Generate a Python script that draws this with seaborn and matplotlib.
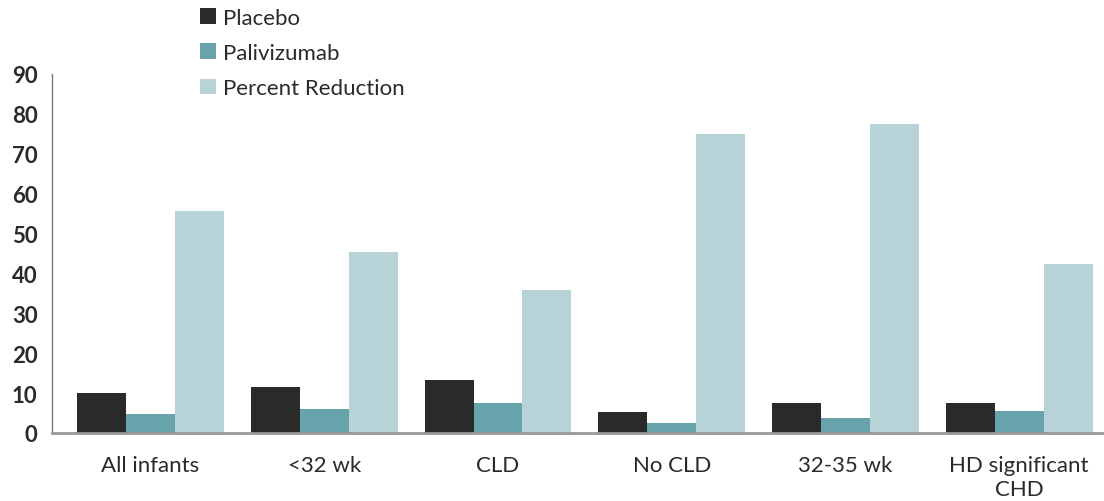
import matplotlib
matplotlib.use("Agg")
import matplotlib.pyplot as plt
from matplotlib.patches import Patch
import seaborn as sns
import pandas as pd

# Subgroup results: hospitalisation rates and percent reduction
categories = ["All infants", "<32 wk", "CLD", "No CLD", "32-35 wk", "HD significant\nCHD"]
series = ["Placebo", "Palivizumab", "Percent Reduction"]
placebo = [10.0, 11.5, 13.3, 5.3, 7.5, 7.5]
palivizumab = [4.8, 6.0, 7.5, 2.5, 3.8, 5.5]
percent_reduction = [55.7, 45.4, 35.9, 75.0, 77.3, 42.4]
y_ticks = [0, 10, 20, 30, 40, 50, 60, 70, 80, 90]

colors = ["#2a2a2a", "#68a3ab", "#b8d3d8"]

rows = []
for name, vals in zip(series, [placebo, palivizumab, percent_reduction]):
    for cat, v in zip(categories, vals):
        rows.append({"Group": cat, "Series": name, "Value": v})
df = pd.DataFrame(rows)

sns.set_theme(style="white")
plt.rcParams["font.family"] = ["Lato", "DejaVu Sans"]

fig = plt.figure(figsize=(11.04, 5.02), dpi=100)
ax = fig.add_axes([52 / 1104, (502 - 434) / 502, (1104 - 52) / 1104, (434 - 74.6) / 502])

sns.barplot(data=df, x="Group", y="Value", hue="Series", order=categories,
            hue_order=series, palette=colors, width=0.845, gap=0,
            saturation=1, ax=ax, legend=False, linewidth=0)

ax.set_ylim(0, 90)
ax.set_xlim(-0.567, 5.488)
ax.set_yticks(y_ticks)
ax.set_xlabel("")
ax.set_ylabel("")

for side in ["top", "right"]:
    ax.spines[side].set_visible(False)
ax.spines["left"].set_color("#7a7a7a")
ax.spines["left"].set_linewidth(1.0)
ax.spines["bottom"].set_color("#999999")
ax.spines["bottom"].set_linewidth(2.0)

ax.tick_params(axis="y", length=6.5, width=1.0, color="#7a7a7a", pad=4,
               labelsize=16, labelcolor="#2a2a2a")
for lbl in ax.get_yticklabels():
    lbl.set_fontweight("bold")
ax.tick_params(axis="x", length=0, pad=16, labelsize=16, labelcolor="#2a2a2a")
for lbl in ax.get_xticklabels():
    lbl.set_linespacing(1.25)

handles = [Patch(facecolor=c, edgecolor="none", label=s) for c, s in zip(colors, series)]
fig.legend(handles=handles, loc="upper left", bbox_to_anchor=(200 / 1104, 1 - 9 / 502),
           frameon=False, fontsize=16, handlelength=0.72, handleheight=0.72,
           handletextpad=0.3, labelspacing=0.68, borderpad=0, borderaxespad=0,
           labelcolor="#2a2a2a")

fig.savefig("out.png", dpi=100)
